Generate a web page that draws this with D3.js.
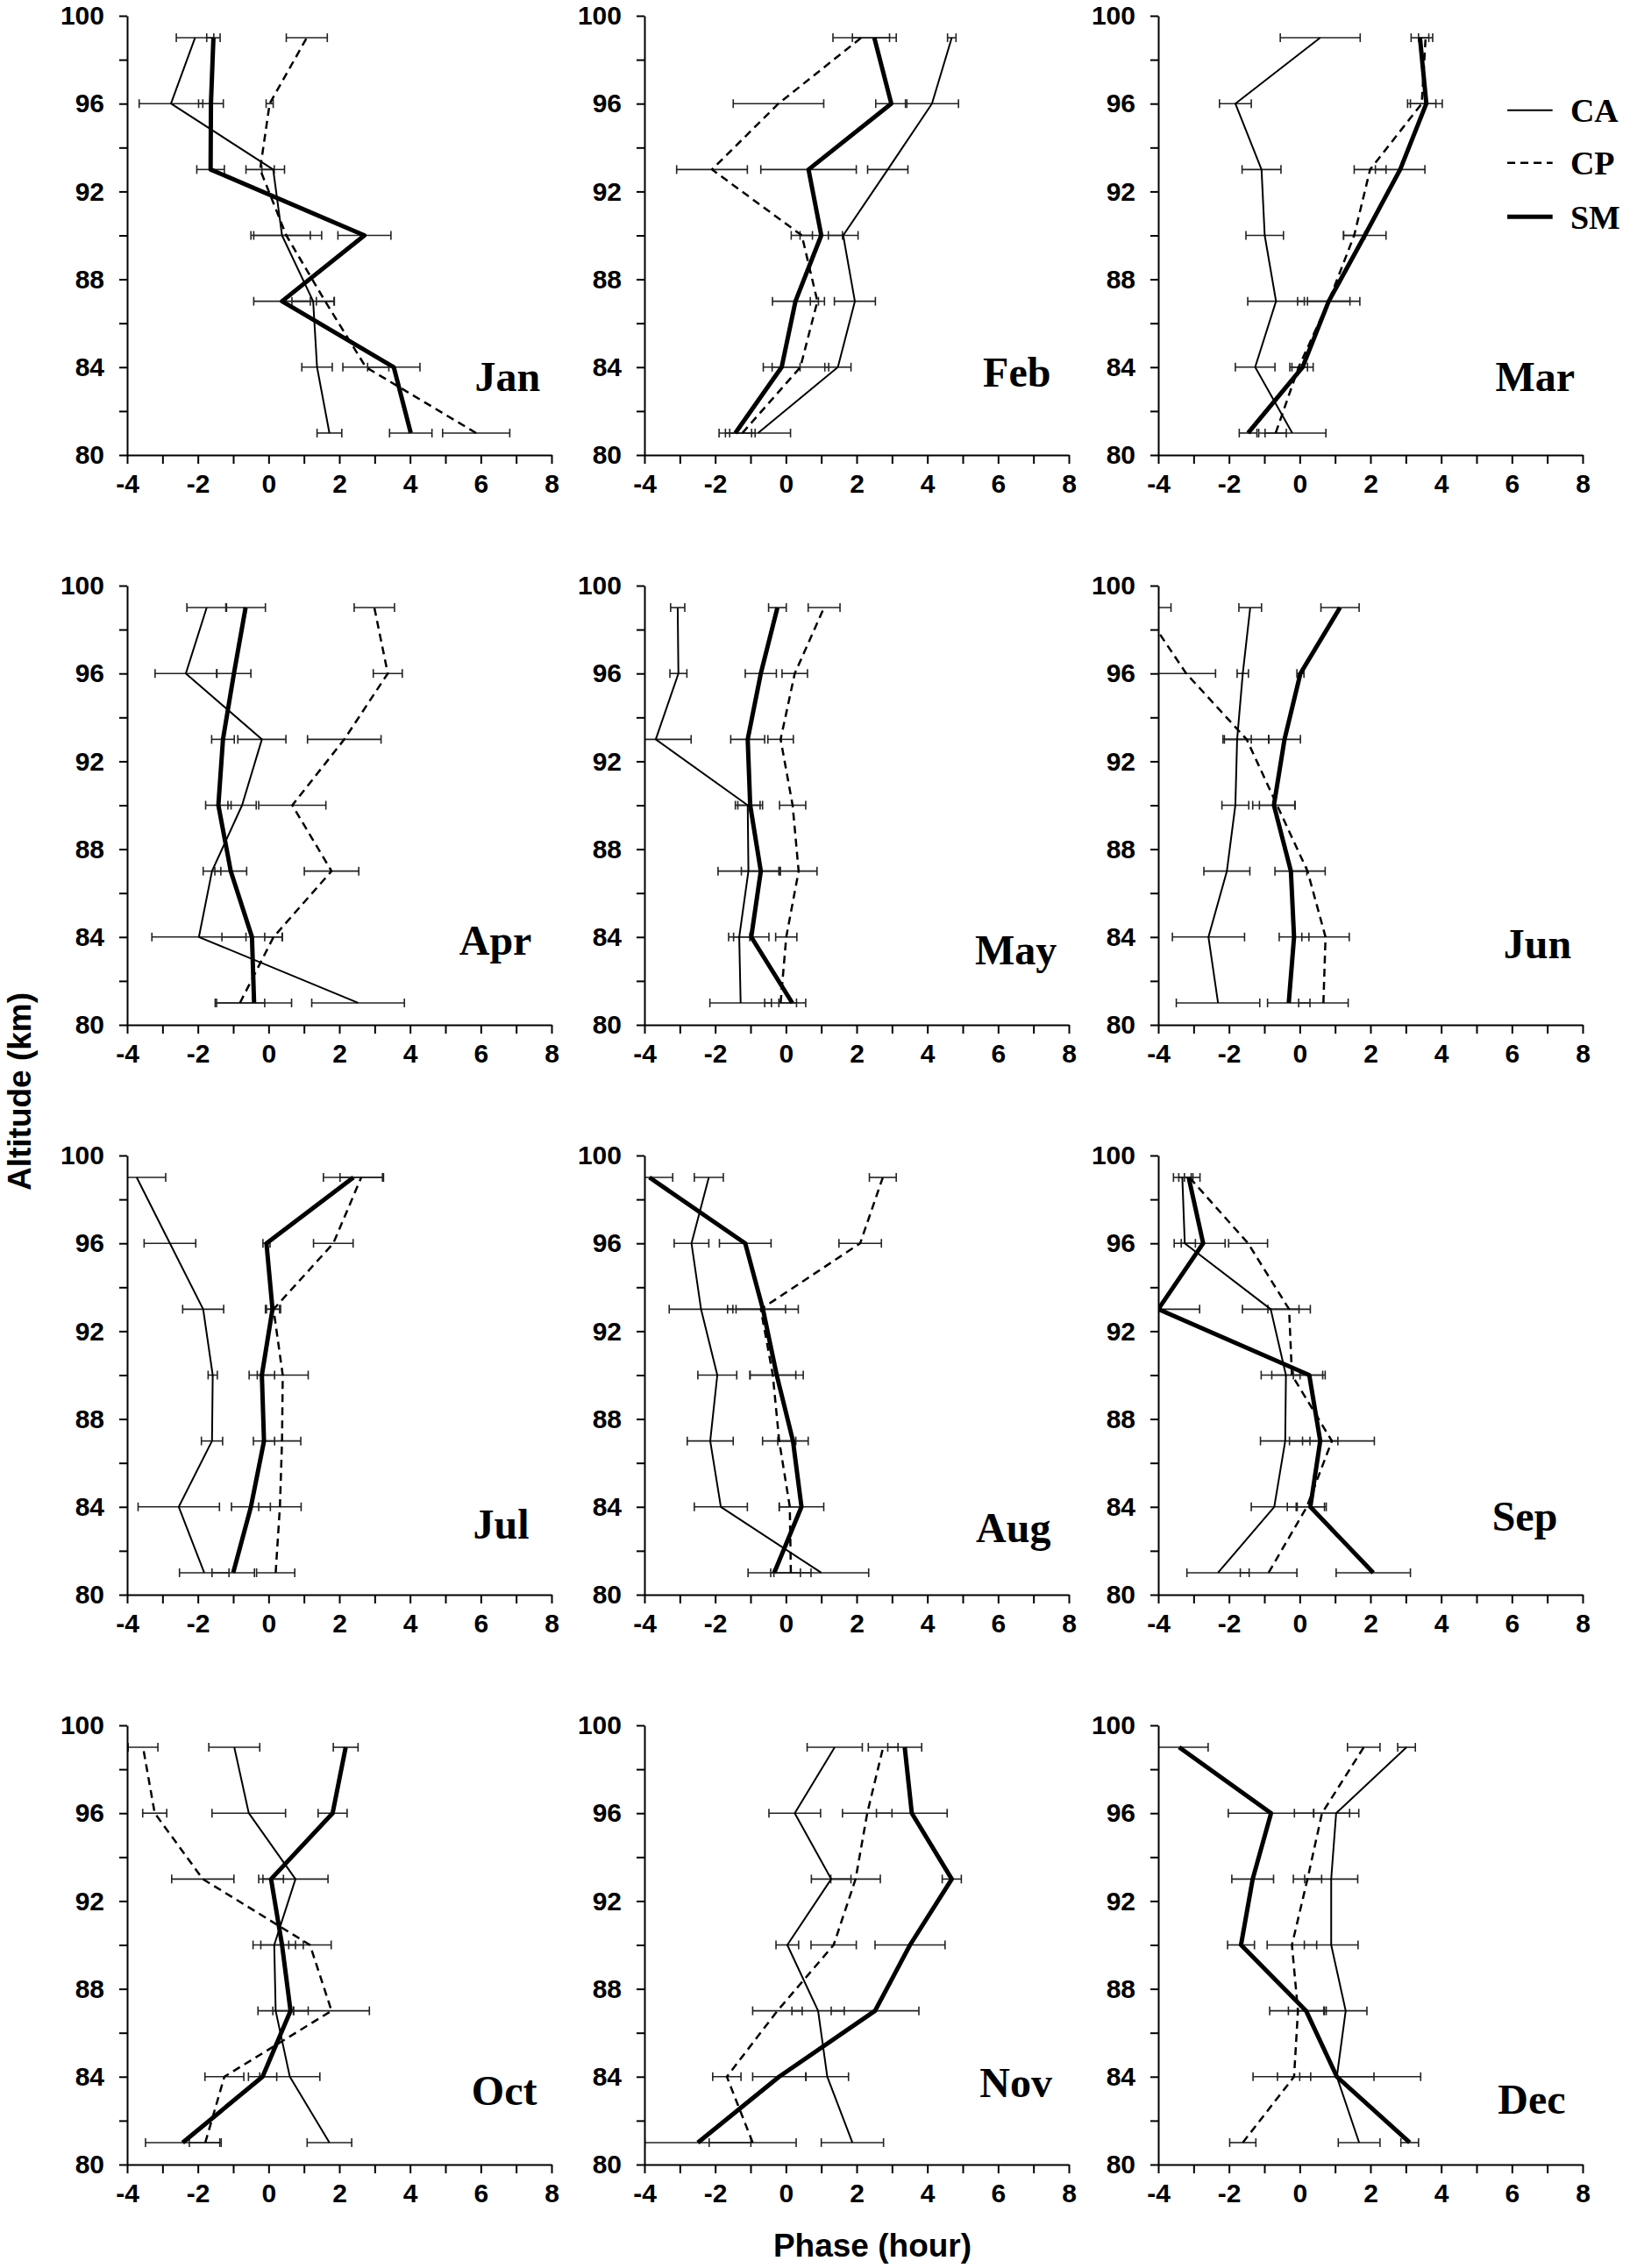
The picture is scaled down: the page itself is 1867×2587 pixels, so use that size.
<!doctype html>
<html>
<head>
    <style>
        body { margin: 0; background: #fff; }
        .axis text { font: bold 30px "Liberation Sans", Arial, sans-serif; fill: #000; }
        .axis path, .axis line { stroke: #000; stroke-width: 2; }
        .month { font: bold 48px "Liberation Serif", "Times New Roman", serif; }
        .legend text { font: bold 38px "Liberation Serif", "Times New Roman", serif; }
        .title { font: bold 37px "Liberation Sans", Arial, sans-serif; }
    </style>
    <script src="https://d3js.org/d3.v7.min.js"></script>
</head>
<body>
<script>

    var months = ["Jan", "Feb", "Mar", "Apr", "May", "Jun", "Jul", "Aug", "Sep", "Oct", "Nov", "Dec"];
    var altitudes = [81, 84, 87, 90, 93, 96, 99];
    var xTicks = [-4, -3, -2, -1, 0, 1, 2, 3, 4, 5, 6, 7, 8];
    var yTicks = [80, 82, 84, 86, 88, 90, 92, 94, 96, 98, 100];

    // phase (hour) per month, altitudes 81..99
    var caPhase = [
        [1.72, 1.37, 1.26, 0.38, 0.13, -2.76, -2.08],
        [-0.79, 1.47, 1.95, 1.62, 2.88, 4.13, 4.69],
        [-0.21, -1.26, -0.67, -0.99, -1.08, -1.82, 0.58],
        [2.53, -1.97, -1.6, -0.75, -0.19, -2.34, -1.75],
        [-1.28, -1.32, -1.06, -1.08, -3.68, -3.04, -3.06],
        [-2.31, -2.58, -2.06, -1.82, -1.77, -1.61, -1.4],
        [-1.82, -2.54, -1.6, -1.58, -1.85, -2.79, -3.73],
        [1.0, -1.84, -2.14, -1.94, -2.4, -2.67, -2.18],
        [-2.31, -0.72, -0.41, -0.39, -0.82, -3.25, -3.32],
        [1.72, 0.6, 0.2, 0.16, 0.76, -0.56, -0.97],
        [1.88, 1.17, 0.91, 0.04, 1.28, 0.25, 1.38],
        [1.68, 1.05, 1.3, 0.89, 0.89, 1.03, 3.02]
    ];
    var cpPhase = [
        [5.87, 2.75, 1.6, 0.5, -0.24, 0.03, 1.08],
        [-1.23, 0.41, 0.89, 0.45, -2.09, -0.21, 2.13],
        [-0.68, -0.03, 0.82, 1.54, 1.99, 3.45, 3.56],
        [-0.81, 0.14, 1.78, 0.67, 2.14, 3.37, 2.99],
        [-0.15, 0.01, 0.36, 0.19, -0.15, 0.25, 1.08],
        [0.67, 0.73, 0.22, -0.64, -1.5, -3.21, -4.46],
        [0.2, 0.32, 0.38, 0.4, 0.14, 1.83, 2.62],
        [0.14, 0.11, -0.19, -0.37, -0.71, 2.1, 2.74],
        [-0.88, 0.2, 0.91, -0.22, -0.3, -1.46, -3.12],
        [-1.79, -1.25, 1.78, 1.17, -1.86, -3.22, -3.55],
        [-0.94, -1.67, -0.24, 1.35, 1.97, 2.3, 2.75],
        [-1.61, -0.16, -0.05, -0.22, 0.22, 0.63, 1.81]
    ];
    var smPhase = [
        [4.02, 3.54, 0.38, 2.71, -1.64, -1.63, -1.56],
        [-1.43, -0.12, 0.27, 1.0, 0.64, 2.98, 2.5],
        [-1.46, 0.08, 0.82, 1.84, 2.84, 3.58, 3.4],
        [-0.41, -0.47, -1.07, -1.42, -1.29, -0.98, -0.65],
        [0.18, -0.98, -0.71, -1.01, -1.08, -0.71, -0.24],
        [-0.31, -0.16, -0.25, -0.73, -0.43, 0.02, 1.14],
        [-1.0, -0.5, -0.13, -0.19, 0.11, -0.06, 2.4],
        [-0.33, 0.44, 0.2, -0.26, -0.65, -1.15, -3.86],
        [2.08, 0.3, 0.58, 0.27, -4.0, -2.73, -3.14],
        [-2.43, -0.17, 0.62, 0.38, 0.07, 1.81, 2.18],
        [-2.49, -0.19, 2.52, 3.51, 4.69, 3.56, 3.36],
        [3.11, 1.05, 0.18, -1.66, -1.33, -0.81, -3.41]
    ];

    // half widths of the error bars
    var caErr = [
        [0.35, 0.43, 0.6, 0.8, 0.32, 0.9, 0.53],
        [0.92, 0.37, 0.58, 0.42, 0.57, 0.75, 0.12],
        [0.95, 0.56, 0.8, 0.53, 0.55, 0.45, 1.13],
        [1.31, 1.33, 0.25, 0.4, 0.68, 0.87, 0.56],
        [0.87, 0.3, 0.86, 0.35, 1.0, 0.24, 0.2],
        [1.18, 1.02, 0.65, 0.38, 0.4, 0.16, 0.32],
        [0.7, 1.15, 0.3, 0.13, 0.58, 0.73, 0.82],
        [1.34, 0.75, 0.65, 0.55, 0.9, 0.49, 0.41],
        [0.88, 0.65, 0.7, 0.4, 0.8, 0.3, 0.25],
        [0.63, 0.85, 0.5, 0.6, 0.92, 1.04, 0.72],
        [0.88, 0.6, 0.74, 0.32, 0.56, 0.73, 0.78],
        [0.59, 1.05, 0.6, 0.76, 0.75, 0.64, 0.25]
    ];
    var cpErr = [
        [0.95, 0.65, 0.25, 1.0, 0.4, 0.1, 0.58],
        [0.36, 0.8, 0.2, 0.3, 1.0, 1.28, 0.8],
        [0.3, 0.25, 0.6, 0.3, 0.45, 0.4, 0.2],
        [0.7, 0.25, 0.77, 0.95, 1.04, 0.41, 0.57],
        [0.45, 0.3, 0.52, 0.37, 0.36, 0.36, 0.45],
        [0.7, 0.67, 0.5, 0.5, 0.63, 0.83, 0.82],
        [0.54, 0.6, 0.53, 0.72, 0.2, 0.56, 0.6],
        [0.57, 0.3, 0.47, 0.65, 0.7, 0.6, 0.38],
        [0.8, 0.55, 1.2, 0.87, 0.6, 0.55, 0.3],
        [0.45, 0.55, 1.07, 0.6, 0.88, 0.34, 0.42],
        [1.23, 0.4, 0.7, 0.64, 0.7, 0.7, 0.42],
        [0.37, 0.47, 0.8, 0.7, 0.4, 0.78, 0.46]
    ];
    var smErr = [
        [0.6, 0.74, 0.8, 0.75, 0.39, 0.35, 0.19],
        [0.46, 0.52, 0.65, 0.6, 1.35, 0.44, 0.62],
        [0.25, 0.3, 0.88, 0.6, 0.7, 0.45, 0.25],
        [1.06, 0.85, 0.45, 0.36, 0.32, 0.48, 0.56],
        [0.38, 0.5, 0.55, 0.35, 0.48, 0.44, 0.25],
        [0.6, 0.42, 0.45, 0.6, 0.45, 0.1, 0.54],
        [0.6, 0.55, 0.3, 0.36, 0.2, 0.1, 0.85],
        [0.74, 0.63, 0.43, 0.75, 1.0, 0.73, 0.66],
        [1.05, 0.4, 0.5, 0.45, 1.17, 0.62, 0.12],
        [1.05, 0.4, 0.5, 0.6, 0.35, 0.41, 0.35],
        [1.5, 0.75, 1.24, 0.99, 0.27, 1.0, 0.48],
        [0.25, 2.37, 0.5, 0.38, 0.59, 1.21, 0.82]
    ];

    var width = 1867, height = 2587;
    var colLeft = [145, 735, 1321], rowTop = [18, 668, 1318, 1968];
    var W = 484, H = 501;

    // where each month name sits, in data units [right edge phase, baseline altitude]
    var labelPos = [
        [7.68, 82.93], [7.49, 83.1], [7.78, 82.93], [7.44, 83.2],
        [7.66, 82.77], [7.68, 83.05], [7.37, 82.57], [7.49, 82.4],
        [7.29, 82.9], [7.59, 82.7], [7.53, 83.07], [7.52, 82.3]
    ];
    var legendAlt = [95.7, 93.3, 90.85];

    var series = [
        { name: "CA", phase: caPhase, err: caErr, sw: 2, dash: null },
        { name: "CP", phase: cpPhase, err: cpErr, sw: 2.5, dash: "9,6" },
        { name: "SM", phase: smPhase, err: smErr, sw: 5, dash: null }
    ];

    var svg = d3.select("body").append("svg")
        .attr("width", width)
        .attr("height", height);

    svg.append("rect").attr("width", width).attr("height", height).attr("fill", "#fff");

    months.forEach(function (m, i) {
        var g = svg.append("g")
            .attr("transform", "translate(" + colLeft[i % 3] + "," + rowTop[Math.floor(i / 3)] + ")");

        var x = d3.scaleLinear().domain([-4, 8]).range([0, W]);
        var y = d3.scaleLinear().domain([80, 100]).range([H, 0]);

        g.append("clipPath").attr("id", "clip" + i)
            .append("rect").attr("x", 0).attr("y", -10).attr("width", W).attr("height", H + 10);

        var plot = g.append("g").attr("clip-path", "url(#clip" + i + ")");

        // error bars
        series.forEach(function (s) {
            var pts = altitudes.map(function (a, k) {
                return { alt: a, v: s.phase[i][k], e: s.err[i][k] };
            });
            var eb = plot.append("g").attr("stroke", "#222").attr("stroke-width", 1.6)
                .selectAll("g").data(pts).join("g");
            eb.append("line")
                .attr("x1", function (d) { return x(d.v - d.e); })
                .attr("x2", function (d) { return x(d.v + d.e); })
                .attr("y1", function (d) { return y(d.alt); })
                .attr("y2", function (d) { return y(d.alt); });
            [-1, 1].forEach(function (sgn) {
                eb.append("line")
                    .attr("x1", function (d) { return x(d.v + sgn * d.e); })
                    .attr("x2", function (d) { return x(d.v + sgn * d.e); })
                    .attr("y1", function (d) { return y(d.alt) - 5; })
                    .attr("y2", function (d) { return y(d.alt) + 5; });
            });
        });

        // profiles
        series.forEach(function (s) {
            var line = d3.line()
                .x(function (d, k) { return x(s.phase[i][k]); })
                .y(function (d) { return y(d); });
            plot.append("path")
                .datum(altitudes)
                .attr("fill", "none")
                .attr("stroke", "#000")
                .attr("stroke-width", s.sw)
                .attr("stroke-linejoin", "round")
                .attr("stroke-dasharray", s.dash)
                .attr("d", line);
        });

        g.append("g")
            .attr("class", "axis")
            .attr("transform", "translate(0," + H + ")")
            .call(d3.axisBottom(x).tickValues(xTicks).tickSize(10).tickSizeOuter(0).tickPadding(12)
                .tickFormat(function (d) { return d % 2 === 0 ? String(d) : ""; }));

        g.append("g")
            .attr("class", "axis")
            .call(d3.axisLeft(y).tickValues(yTicks).tickSize(9).tickSizeOuter(0).tickPadding(17)
                .tickFormat(function (d) { return d % 4 === 0 ? String(d) : ""; }));

        g.append("text")
            .attr("class", "month")
            .attr("x", x(labelPos[i][0]))
            .attr("y", y(labelPos[i][1]))
            .attr("text-anchor", "end")
            .text(m);

        if (i === 2) {
            var lg = g.append("g").attr("class", "legend");
            series.forEach(function (s, k) {
                lg.append("line")
                    .attr("x1", x(5.87)).attr("x2", x(7.15))
                    .attr("y1", y(legendAlt[k])).attr("y2", y(legendAlt[k]))
                    .attr("stroke", "#000")
                    .attr("stroke-width", s.sw)
                    .attr("stroke-dasharray", s.dash);
                lg.append("text")
                    .attr("x", x(7.65))
                    .attr("y", y(legendAlt[k]))
                    .attr("dy", "0.35em")
                    .text(s.name);
            });
        }
    });

    svg.append("text")
        .attr("class", "title")
        .attr("transform", "translate(22,1245) rotate(-90)")
        .attr("text-anchor", "middle")
        .attr("dy", "0.35em")
        .text("Altitude (km)");

    svg.append("text")
        .attr("class", "title")
        .attr("x", 995)
        .attr("y", 2561)
        .attr("text-anchor", "middle")
        .attr("dy", "0.35em")
        .text("Phase (hour)");

</script>
</body>
</html>
